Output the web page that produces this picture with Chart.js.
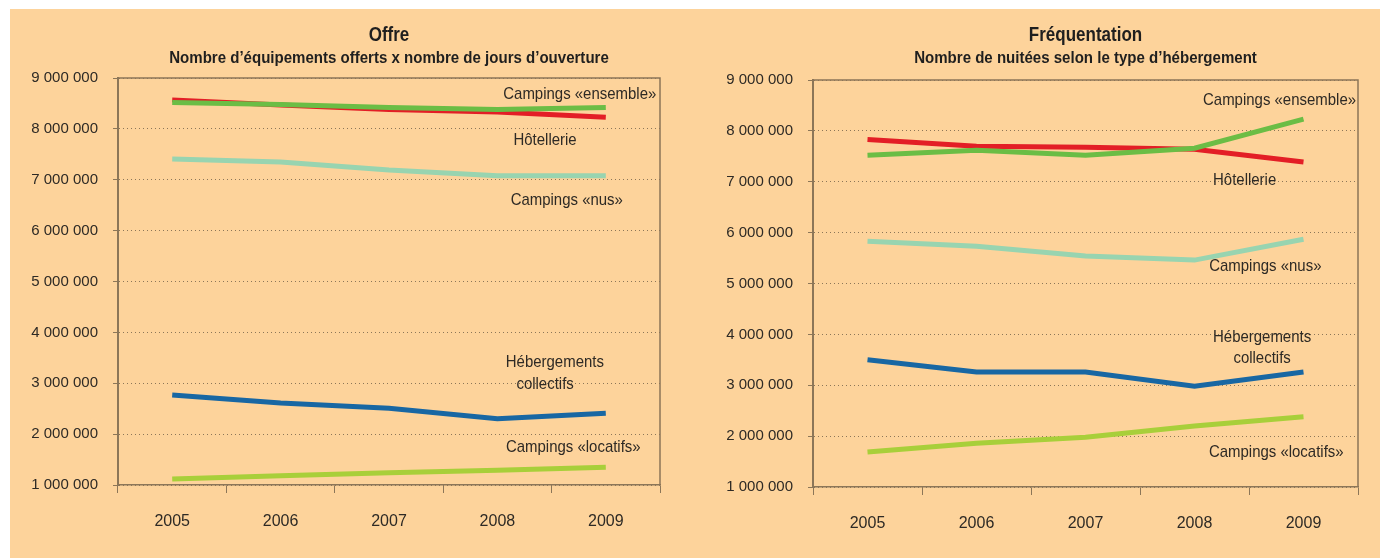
<!DOCTYPE html>
<html>
<head>
<meta charset="utf-8">
<script src="https://cdn.jsdelivr.net/npm/chart.js@4"></script>
<style>
  body { margin: 0; background: #fff; }
  #panel { position: absolute; left: 10px; top: 9px; width: 1370px; height: 549px; background: #fdd39b; }
  canvas { position: absolute; top: 9px; }
  #offre { left: 10px; }
  #freq { left: 690px; }
</style>
</head>
<body>
<div id="panel"></div>
<canvas id="offre" width="680" height="549"></canvas>
<canvas id="freq" width="690" height="549"></canvas>
<script>
// years on the x axis
const years = ['2005', '2006', '2007', '2008', '2009'];
const yTicks = [1000000, 2000000, 3000000, 4000000, 5000000, 6000000, 7000000, 8000000, 9000000];

// Offre : équipements x jours d'ouverture
const offreEnsemble = [8520000, 8480000, 8420000, 8380000, 8420000];
const offreHotellerie = [8570000, 8470000, 8380000, 8330000, 8230000];
const offreNus = [7410000, 7350000, 7190000, 7080000, 7080000];
const offreCollectifs = [2770000, 2610000, 2510000, 2300000, 2410000];
const offreLocatifs = [1120000, 1180000, 1240000, 1290000, 1350000];

// Fréquentation : nuitées
const freqEnsemble = [7520000, 7620000, 7520000, 7660000, 8230000];
const freqHotellerie = [7830000, 7700000, 7680000, 7640000, 7390000];
const freqNus = [5830000, 5730000, 5540000, 5460000, 5870000];
const freqCollectifs = [3500000, 3260000, 3260000, 2980000, 3260000];
const freqLocatifs = [1690000, 1860000, 1980000, 2200000, 2380000];

const colors = {
  ensemble: '#6bbd45',
  hotellerie: '#e31e26',
  nus: '#98d4b0',
  collectifs: '#1867a3',
  locatifs: '#a8cf3a'
};

// series labels drawn inside the plot (x = category index, y = value)
const offreLabels = [
  { text: 'Campings «ensemble»', x: 3.76, y: 8680000 },
  { text: 'Hôtellerie', x: 3.44, y: 7780000 },
  { text: 'Campings «nus»', x: 3.64, y: 6600000 },
  { text: 'Hébergements', x: 3.53, y: 3420000 },
  { text: 'collectifs', x: 3.44, y: 2980000 },
  { text: 'Campings «locatifs»', x: 3.70, y: 1750000 }
];
const freqLabels = [
  { text: 'Campings «ensemble»', x: 3.78, y: 8600000 },
  { text: 'Hôtellerie', x: 3.46, y: 7030000 },
  { text: 'Campings «nus»', x: 3.65, y: 5340000 },
  { text: 'Hébergements', x: 3.62, y: 3950000 },
  { text: 'collectifs', x: 3.62, y: 3530000 },
  { text: 'Campings «locatifs»', x: 3.75, y: 1690000 }
];

const FONT = '"Liberation Sans Narrow", "Arial Narrow", "Liberation Sans", sans-serif';
const AXIS = '#8c7658';

function fmt(v) {
  return String(v).replace(/\B(?=(\d{3})+(?!\d))/g, ' ');
}

// text squeezed horizontally, the original uses a condensed face
function narrowText(ctx, text, x, y, squeeze) {
  ctx.save();
  ctx.translate(x, y);
  ctx.scale(squeeze, 1);
  ctx.fillText(text, 0, 0);
  ctx.restore();
}

const decorations = {
  id: 'decorations',
  afterDatasetsDraw(chart, args, opts) {
    const { ctx, chartArea: a, scales: { x, y } } = chart;
    ctx.save();
    // solid top and right frame
    ctx.strokeStyle = AXIS;
    ctx.lineWidth = 1.5;
    ctx.beginPath();
    ctx.moveTo(a.left, a.top);
    ctx.lineTo(a.right, a.top);
    ctx.lineTo(a.right, a.bottom);
    ctx.stroke();
    // series labels
    ctx.fillStyle = '#2e2a25';
    ctx.font = '17px ' + FONT;
    ctx.textAlign = 'center';
    ctx.textBaseline = 'middle';
    opts.labels.forEach(l => {
      narrowText(ctx, l.text, x.getPixelForValue(l.x), y.getPixelForValue(l.y), 0.88);
    });
    // titles
    const cx = (a.left + a.right) / 2;
    ctx.fillStyle = '#1f1f1f';
    ctx.font = 'bold 20px ' + FONT;
    narrowText(ctx, opts.title, cx, 26, 0.85);
    ctx.font = 'bold 16px ' + FONT;
    narrowText(ctx, opts.subtitle, cx, 50, 0.94);
    ctx.restore();
  }
};

function makeChart(id, data, labels, title, subtitle, yWidth, pad) {
  const ds = (label, values, color) => ({
    label: label,
    data: values,
    borderColor: color,
    backgroundColor: color,
    borderWidth: 5,
    pointRadius: 0,
    tension: 0,
    fill: false
  });
  new Chart(document.getElementById(id), {
    type: 'line',
    data: {
      labels: years,
      datasets: [
        ds('Campings «ensemble»', data[0], colors.ensemble),
        ds('Hôtellerie', data[1], colors.hotellerie),
        ds('Campings «nus»', data[2], colors.nus),
        ds('Hébergements collectifs', data[3], colors.collectifs),
        ds('Campings «locatifs»', data[4], colors.locatifs)
      ]
    },
    options: {
      responsive: false,
      animation: false,
      layout: { padding: pad },
      plugins: {
        legend: { display: false },
        tooltip: { enabled: false },
        decorations: { labels: labels, title: title, subtitle: subtitle }
      },
      scales: {
        x: {
          offset: true,
          grid: { offset: true, drawOnChartArea: false, drawTicks: true, tickLength: 8, color: AXIS },
          border: { color: AXIS, width: 1.5 },
          ticks: { color: '#2e2a25', font: { family: FONT, size: 16 }, padding: 19 },
          afterFit: s => { s.height = 60; }
        },
        y: {
          min: 1000000,
          max: 9000000,
          afterBuildTicks: s => { s.ticks = yTicks.map(v => ({ value: v })); },
          grid: { color: AXIS, lineWidth: 1, tickLength: 5, tickBorderDash: [] },
          border: { color: AXIS, width: 2, dash: [1, 3] },
          ticks: { color: '#2e2a25', font: { family: FONT, size: 15 }, padding: 15, callback: v => fmt(v) },
          afterFit: s => { s.width = yWidth; }
        }
      }
    },
    plugins: [decorations]
  });
}

makeChart('offre',
  [offreEnsemble, offreHotellerie, offreNus, offreCollectifs, offreLocatifs],
  offreLabels, 'Offre', 'Nombre d’équipements offerts x nombre de jours d’ouverture', 108,
  { top: 69, right: 30, bottom: 13, left: 0 });
makeChart('freq',
  [freqEnsemble, freqHotellerie, freqNus, freqCollectifs, freqLocatifs],
  freqLabels, 'Fréquentation', 'Nombre de nuitées selon le type d’hébergement', 123,
  { top: 71, right: 22, bottom: 11, left: 0 });
</script>
</body>
</html>
